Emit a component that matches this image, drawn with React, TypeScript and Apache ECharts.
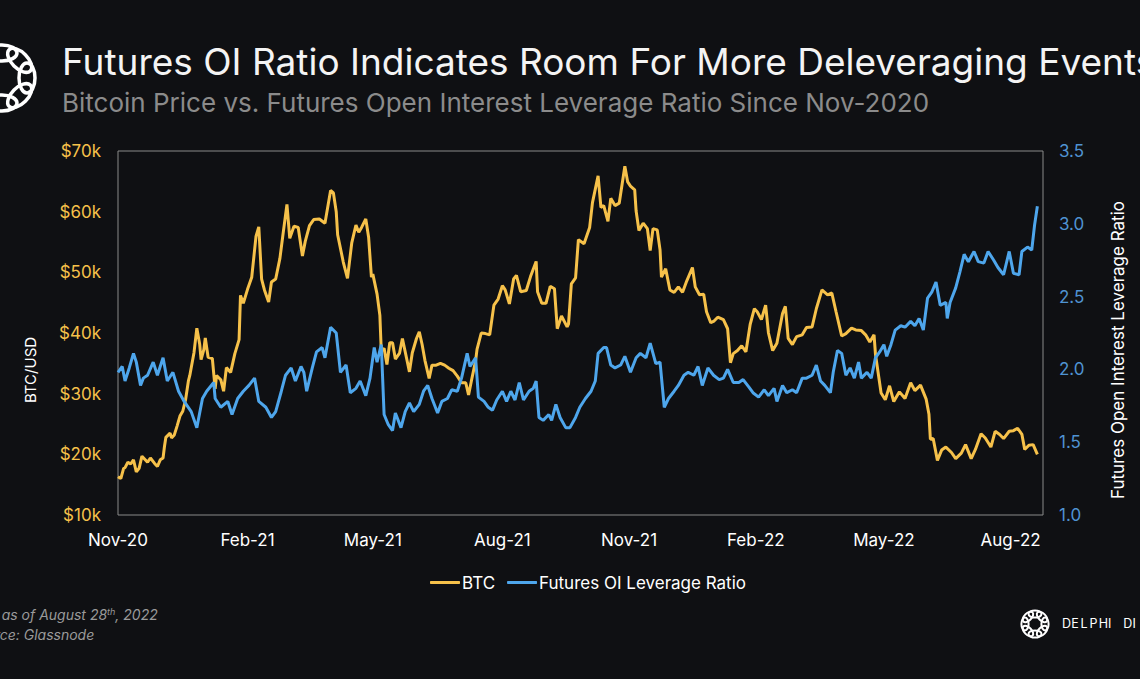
import React, { useEffect, useRef } from "react";
import * as echarts from "echarts";

const START_DATE = "2020-11-13";
const tickDates = ["2020-11-13", "2021-02-13", "2021-05-13", "2021-08-13", "2021-11-11", "2022-02-09", "2022-05-11", "2022-08-09"];
const tickLabels = ["Nov-20", "Feb-21", "May-21", "Aug-21", "Nov-21", "Feb-22", "May-22", "Aug-22"];

const btcDates = [
  "2020-11-13","2020-11-15","2020-11-17","2020-11-18","2020-11-20","2020-11-22","2020-11-24","2020-11-26","2020-11-28","2020-11-30",
  "2020-12-02","2020-12-04","2020-12-06","2020-12-09","2020-12-11","2020-12-13","2020-12-15","2020-12-16","2020-12-17","2020-12-20",
  "2020-12-21","2020-12-23","2020-12-25","2020-12-27","2020-12-29","2020-12-31","2021-01-02","2021-01-03","2021-01-06","2021-01-08",
  "2021-01-10","2021-01-11","2021-01-13","2021-01-14","2021-01-16","2021-01-19","2021-01-21","2021-01-22","2021-01-25","2021-01-27",
  "2021-01-29","2021-02-01","2021-02-04","2021-02-07","2021-02-08","2021-02-10","2021-02-13","2021-02-16","2021-02-19","2021-02-21",
  "2021-02-23","2021-02-25","2021-02-28","2021-03-02","2021-03-05","2021-03-08","2021-03-10","2021-03-13","2021-03-15","2021-03-18",
  "2021-03-21","2021-03-24","2021-03-26","2021-03-29","2021-04-01","2021-04-05","2021-04-09","2021-04-13","2021-04-15","2021-04-17",
  "2021-04-18","2021-04-22","2021-04-25","2021-04-28","2021-05-01","2021-05-03","2021-05-05","2021-05-08","2021-05-10","2021-05-12",
  "2021-05-13","2021-05-16","2021-05-18","2021-05-19","2021-05-21","2021-05-23","2021-05-25","2021-05-27","2021-05-29","2021-06-01",
  "2021-06-03","2021-06-06","2021-06-08","2021-06-10","2021-06-13","2021-06-15","2021-06-17","2021-06-19","2021-06-22","2021-06-24",
  "2021-06-27","2021-06-30","2021-07-03","2021-07-06","2021-07-09","2021-07-12","2021-07-15","2021-07-18","2021-07-20","2021-07-22",
  "2021-07-25","2021-07-26","2021-07-29","2021-08-01","2021-08-04","2021-08-07","2021-08-10","2021-08-13","2021-08-15","2021-08-18",
  "2021-08-21","2021-08-23","2021-08-26","2021-08-30","2021-09-02","2021-09-06","2021-09-07","2021-09-10","2021-09-13","2021-09-16",
  "2021-09-19","2021-09-21","2021-09-24","2021-09-28","2021-09-29","2021-10-01","2021-10-04","2021-10-06","2021-10-10","2021-10-14",
  "2021-10-16","2021-10-20","2021-10-22","2021-10-24","2021-10-27","2021-10-29","2021-11-01","2021-11-04","2021-11-08","2021-11-10",
  "2021-11-12","2021-11-15","2021-11-16","2021-11-18","2021-11-21","2021-11-24","2021-11-26","2021-11-28","2021-12-01","2021-12-03",
  "2021-12-04","2021-12-07","2021-12-10","2021-12-13","2021-12-16","2021-12-19","2021-12-22","2021-12-26","2021-12-28","2021-12-31",
  "2022-01-03","2022-01-05","2022-01-08","2022-01-10","2022-01-13","2022-01-17","2022-01-20","2022-01-22","2022-01-24","2022-01-27",
  "2022-01-30","2022-02-02","2022-02-05","2022-02-08","2022-02-10","2022-02-13","2022-02-16","2022-02-18","2022-02-21","2022-02-24",
  "2022-02-28","2022-03-02","2022-03-04","2022-03-07","2022-03-10","2022-03-14","2022-03-17","2022-03-21","2022-03-24","2022-03-28",
  "2022-04-01","2022-04-04","2022-04-07","2022-04-11","2022-04-14","2022-04-18","2022-04-21","2022-04-25","2022-04-28","2022-05-01",
  "2022-05-04","2022-05-05","2022-05-09","2022-05-12","2022-05-15","2022-05-18","2022-05-22","2022-05-26","2022-05-30","2022-06-02",
  "2022-06-06","2022-06-10","2022-06-12","2022-06-13","2022-06-15","2022-06-18","2022-06-21","2022-06-24","2022-06-28","2022-07-01",
  "2022-07-05","2022-07-08","2022-07-12","2022-07-15","2022-07-19","2022-07-22","2022-07-26","2022-07-29","2022-08-01","2022-08-04",
  "2022-08-08","2022-08-11","2022-08-14","2022-08-17","2022-08-19","2022-08-22","2022-08-25","2022-08-28"
];
const btcPrices = [
  16.3,16.0,17.7,17.8,18.7,18.4,19.1,17.1,17.7,19.7,
  19.2,18.7,19.4,18.5,18.0,19.1,19.4,21.3,22.8,23.5,
  22.7,23.2,24.7,26.3,27.1,29.0,32.1,33.0,36.8,40.8,
  38.2,35.6,37.3,39.2,36.0,35.8,30.8,33.0,32.3,30.4,
  34.3,33.5,36.6,38.9,46.2,44.9,47.2,49.2,55.9,57.5,
  48.9,47.1,45.1,48.4,48.9,52.3,55.9,61.2,55.6,57.6,
  57.4,52.7,55.1,57.7,58.7,58.8,58.1,63.5,63.1,60.0,
  56.2,51.7,49.0,54.8,57.8,56.6,57.4,58.8,55.8,49.2,
  49.7,46.4,42.9,37.0,37.5,34.8,38.4,38.4,35.7,36.7,
  39.1,35.8,33.6,36.7,39.1,40.2,38.1,35.5,32.5,34.7,
  34.7,35.0,34.7,34.2,33.8,32.9,31.8,31.8,29.8,32.1,
  35.4,37.3,40.0,39.9,39.7,44.6,45.6,47.8,47.1,44.8,
  48.9,49.5,46.8,47.0,49.3,51.8,46.8,44.9,44.9,47.7,
  47.3,40.7,42.8,41.0,41.5,48.1,49.1,55.4,54.7,57.4,
  61.5,65.9,60.7,61.0,58.4,62.2,61.0,61.4,67.5,64.9,
  64.2,63.6,60.1,56.9,58.1,57.2,53.6,57.2,57.0,53.7,
  49.2,50.6,47.1,46.7,47.6,46.7,48.6,50.8,47.6,46.3,
  46.4,43.5,41.7,41.9,42.6,42.2,40.7,35.1,36.6,37.1,
  37.9,36.9,41.4,44.0,43.5,42.2,44.6,40.0,37.1,38.3,
  43.2,44.4,39.1,38.1,39.4,39.7,40.9,41.0,44.0,47.1,
  46.3,46.6,43.5,39.5,39.9,40.8,40.5,40.4,39.7,38.5,
  39.7,36.5,30.1,29.0,31.3,28.7,30.3,29.2,31.8,30.5,
  31.4,29.1,26.6,22.5,22.6,19.0,20.7,21.2,20.3,19.3,
  20.2,21.6,19.3,20.8,23.4,22.7,21.2,23.8,23.3,22.6,
  23.8,23.9,24.3,23.3,20.8,21.5,21.6,20.0
];

// Futures OI leverage ratio: x = days since START_DATE
const oiDays = [
  0,3,5,8,11,13,16,18,21,25,28,32,35,39,43,47,52,56,60,63,68,69,73,78,81,85,89,93,97,100,105,109,112,116,119,123,126,130,
  132,134,138,141,145,147,151,155,158,162,165,169,172,176,179,182,184,187,189,192,195,197,201,204,207,210,214,217,220,223,227,230,234,237,241,244,248,250,254,256,260,
  263,266,269,273,276,279,282,285,288,292,295,297,299,302,306,308,311,314,318,321,325,328,332,336,339,341,345,347,350,353,357,360,364,368,371,375,378,382,385,388,391,
  395,398,402,405,409,412,415,419,423,427,430,433,437,441,444,448,451,455,459,462,466,468,472,475,479,482,486,489,493,496,499,502,506,508,511,514,517,520,523,
  526,528,532,535,538,541,544,546,549,552,556,559,563,566,569,572,575,578,581,584,588,589,591,595,598,601,604,608,611,615,618,622,625,629,633,636,640,642,646,649,651,653
];
const oiRatio = [
  1.98,2.02,1.92,2.01,2.11,2.05,1.89,1.94,1.96,2.05,1.96,2.08,1.92,1.98,1.85,1.78,1.71,1.60,1.80,1.85,1.91,1.80,1.74,1.78,1.69,1.80,1.85,1.89,1.94,1.78,1.74,1.67,1.71,1.85,1.96,2.01,1.92,2.02,
  1.98,1.85,2.01,2.12,2.15,2.08,2.29,2.25,1.98,2.03,1.84,1.87,1.92,1.82,1.94,2.15,2.05,2.17,1.69,1.62,1.58,1.70,1.60,1.71,1.77,1.71,1.76,1.85,1.89,1.80,1.70,1.78,1.80,1.86,1.85,1.94,2.11,2.02,2.08,1.81,1.78,
  1.74,1.72,1.79,1.85,1.78,1.85,1.79,1.91,1.79,1.85,1.87,1.92,1.67,1.65,1.69,1.65,1.76,1.67,1.60,1.60,1.67,1.74,1.80,1.85,1.92,2.11,2.15,2.15,2.03,2.01,2.03,2.09,1.98,2.08,2.11,2.08,2.18,2.04,2.05,1.74,1.80,
  1.85,1.89,1.96,1.98,1.96,2.02,1.89,2.01,1.96,1.93,1.94,2.00,1.91,1.91,1.93,1.88,1.84,1.81,1.86,1.82,1.87,1.78,1.89,1.84,1.86,1.84,1.94,1.94,1.96,2.03,1.92,1.89,1.84,1.98,2.13,2.11,1.96,2.01,1.94,
  2.05,1.94,1.98,1.94,2.08,2.12,2.17,2.09,2.17,2.27,2.30,2.29,2.33,2.30,2.35,2.27,2.49,2.53,2.60,2.44,2.46,2.35,2.46,2.56,2.67,2.79,2.74,2.81,2.74,2.73,2.81,2.75,2.70,2.65,2.81,2.66,2.65,2.81,2.84,2.82,2.99,3.12
];

const btcTicks = [10, 20, 30, 40, 50, 60, 70];
const brandLetters = ["D", "E", "L", "P", "H", "I", "D", "I"];

const dayOf = (s: string) => {
  const [y, m, d] = s.split("-").map(Number);
  const [y0, m0, d0] = START_DATE.split("-").map(Number);
  return Math.round((Date.UTC(y, m - 1, d) - Date.UTC(y0, m0 - 1, d0)) / 86400000);
};

const BG = "#0f1013";
const GOLD = "#f6c14a";
const BLUE = "#4ea6ec";
const FONT = "Inter, 'Open Sans', sans-serif";

function knot(cx: number, cy: number, R: number, rx: number, ry: number, w: number, n: number) {
  const items: any[] = [];
  for (let i = 0; i < n; i++) {
    const a = (i / n) * Math.PI * 2;
    items.push({
      type: "ellipse",
      x: cx + R * Math.cos(a),
      y: cy + R * Math.sin(a),
      rotation: -(a + Math.PI / 2),
      shape: { cx: 0, cy: 0, rx, ry },
      style: { fill: "none", stroke: "#ffffff", lineWidth: w },
    });
  }
  return items;
}

export default function App() {
  const ref = useRef<HTMLDivElement>(null);
  useEffect(() => {
    if (!ref.current) return;
    const chart = echarts.init(ref.current, undefined, { renderer: "svg" });
    const tickDays = tickDates.map(dayOf);
    const btcData = btcDates.map((d, i) => [dayOf(d), btcPrices[i]]);
    const oiData = oiDays.map((d, i) => [d, oiRatio[i]]);
    const brand = brandLetters.map((ch, i) => ({
      type: "text", x: 1062 + i * 9.2 + (i >= 6 ? 6 : 0), y: 617,
      style: { text: ch, fill: "#ffffff", fontSize: 12.5, fontFamily: FONT, fontWeight: 400 },
    }));
    chart.setOption({
      animation: false,
      backgroundColor: BG,
      textStyle: { fontFamily: FONT },
      grid: {
        left: 118, right: 97, top: 151, bottom: 164,
        show: true, borderColor: "#8a8a8a", borderWidth: 1, backgroundColor: "transparent",
      },
      legend: {
        bottom: 83, left: 425,
        itemWidth: 30, itemHeight: 3, itemGap: 12, icon: "roundRect",
        textStyle: { color: "#ffffff", fontSize: 17, fontFamily: FONT, padding: [0, 0, 0, -3] },
        data: ["BTC", "Futures OI Leverage Ratio"],
      },
      xAxis: {
        type: "value", min: 0, max: 657,
        axisLine: { show: false }, axisTick: { show: false }, splitLine: { show: false },
        axisLabel: {
          customValues: tickDays,
          color: "#ffffff", fontSize: 17, margin: 16, fontFamily: FONT,
          formatter: (v: number) => {
            const i = tickDays.indexOf(Math.round(v));
            return i >= 0 ? tickLabels[i] : "";
          },
        },
      },
      yAxis: [
        {
          type: "value", min: btcTicks[0], max: btcTicks[btcTicks.length - 1], interval: 10,
          axisLine: { show: false }, axisTick: { show: false }, splitLine: { show: false },
          axisLabel: { color: GOLD, fontSize: 17, margin: 17, fontFamily: FONT, formatter: (v: number) => "$" + v + "k" },
        },
        {
          type: "value", min: 1.0, max: 3.5, interval: 0.5,
          axisLine: { show: false }, axisTick: { show: false }, splitLine: { show: false },
          axisLabel: { color: "#4f93d2", fontSize: 17, margin: 16, fontFamily: FONT, formatter: (v: number) => v.toFixed(1) },
        },
      ],
      series: [
        {
          name: "BTC", type: "line", yAxisIndex: 0, data: btcData, showSymbol: false,
          lineStyle: { color: GOLD, width: 3 }, itemStyle: { color: GOLD },
        },
        {
          name: "Futures OI Leverage Ratio", type: "line", yAxisIndex: 1, data: oiData, showSymbol: false,
          lineStyle: { color: BLUE, width: 3 }, itemStyle: { color: BLUE },
        },
      ],
      graphic: [
        ...knot(2, 78, 25, 15, 8, 3.5, 8),
        ...knot(1035, 624, 10, 6.5, 3.6, 2, 8),
        ...brand,
        {
          type: "text", left: 62, top: 43,
          style: { text: "Futures OI Ratio Indicates Room For More Deleveraging Events", fill: "#f4f4f4", fontSize: 37, fontFamily: FONT, fontWeight: 400 },
        },
        {
          type: "text", left: 62, top: 89,
          style: { text: "Bitcoin Price vs. Futures Open Interest Leverage Ratio Since Nov-2020", fill: "#8b8b8b", fontSize: 26, fontFamily: FONT },
        },
        {
          type: "text", x: 30, y: 370, rotation: Math.PI / 2,
          style: { text: "BTC/USD", fill: "#ffffff", fontSize: 15, fontFamily: FONT, align: "center", verticalAlign: "middle" },
        },
        {
          type: "text", x: 1118, y: 350, rotation: Math.PI / 2,
          style: { text: "Futures Open Interest Leverage Ratio", fill: "#ffffff", fontSize: 17, fontFamily: FONT, align: "center", verticalAlign: "middle" },
        },
        {
          type: "text", x: -34, y: 607,
          style: {
            text: "{a|Data as of August 28}{s|th}{a|, 2022}",
            rich: {
              a: { fill: "#9a9a9a", fontSize: 14, fontStyle: "italic", fontFamily: FONT },
              s: { fill: "#9a9a9a", fontSize: 9, fontStyle: "italic", fontFamily: FONT, verticalAlign: "top", padding: [0, 0, 6, 0] },
            },
          },
        },
        {
          type: "text", x: -31, y: 627,
          style: { text: "Source: Glassnode", fill: "#9a9a9a", fontSize: 14, fontStyle: "italic", fontFamily: FONT },
        },
      ],
    });
    return () => chart.dispose();
  }, []);
  return (
    <div style={{ position: "fixed", left: 0, top: 0, width: 1140, height: 679, background: BG }}>
      <div ref={ref} style={{ width: 1140, height: 679 }} />
    </div>
  );
}
